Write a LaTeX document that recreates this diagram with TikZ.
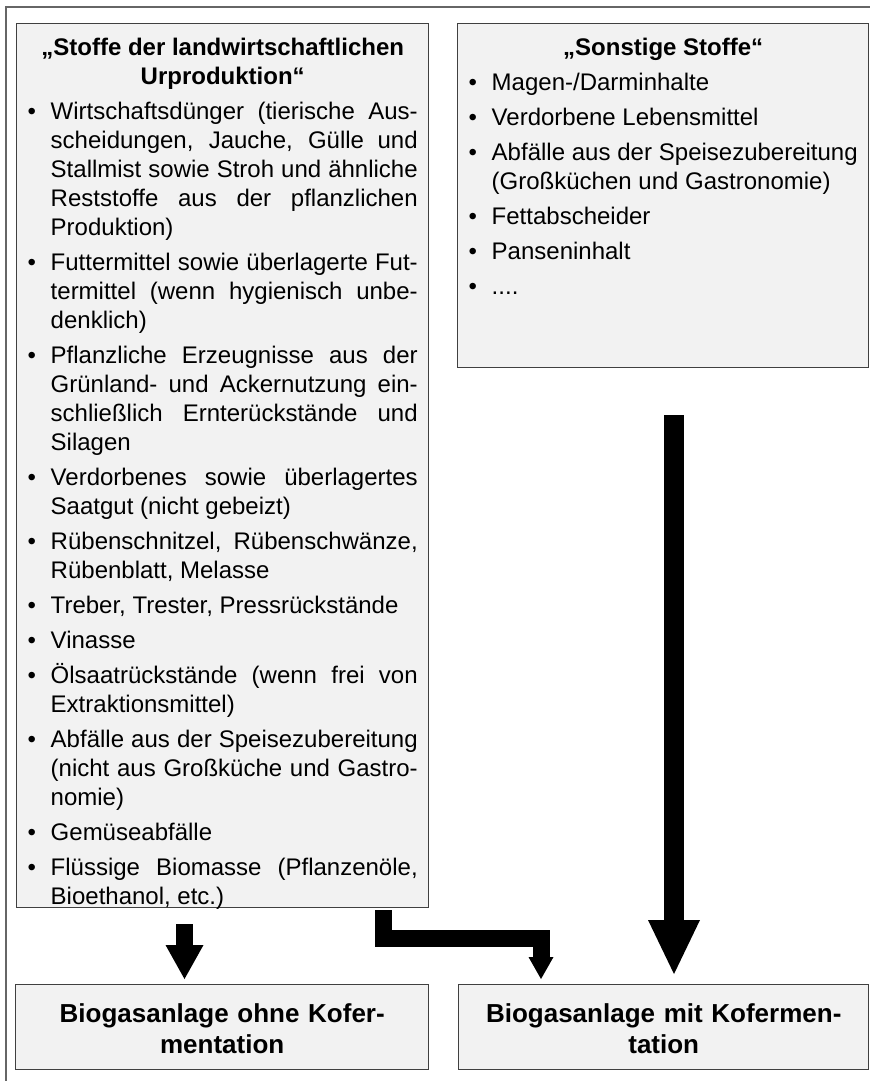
\documentclass[tikz,border=0pt]{standalone}
\usepackage{fontspec}
\setmainfont{Liberation Sans}
\usetikzlibrary{arrows.meta,calc}

\tolerance=10000
\hbadness=10000
\hyphenpenalty=10000
\exhyphenpenalty=10000

% Aufzaehlung in den Stoffkaesten
\newenvironment{stoffliste}{%
  \begin{list}{\textbullet}{%
    \setlength{\leftmargin}{17.25pt}\setlength{\labelwidth}{17.25pt}%
    \setlength{\labelsep}{0pt}\setlength{\itemsep}{4.5pt}%
    \setlength{\parsep}{0pt}\setlength{\topsep}{4.5pt}%
    \setlength{\partopsep}{0pt}%
    \renewcommand{\makelabel}[1]{##1\hfil}}}%
  {\end{list}}

\begin{document}
\begin{tikzpicture}[
      x=0.75pt, y=-0.75pt,
      stoffbox/.style={draw=black!75, fill=black!5, line width=1.1pt, anchor=north west, inner xsep=8.25pt, inner ysep=0pt, align=justify, text height=24pt, font=\fontsize{18pt}{21.75pt}\selectfont},
      zielbox/.style={draw=black!75, fill=black!5, line width=1.1pt, anchor=north west, inner xsep=6pt, inner ysep=0pt, align=center, text height=28.5pt, text depth=35.25pt, font=\fontsize{19.5pt}{23.25pt}\selectfont\bfseries},
      pfeil/.style={line width=12.75pt, line join=miter},
      rahmen/.style={draw=black!60, line width=0.9pt}
  ]
    \useasboundingbox (0,0) rectangle (869,1081);
    \draw[rahmen] (6,7) rectangle (900,1100);

    \node[stoffbox, text width=292.5pt, text depth=639pt] (urprod) at (16,23) {
      {\centering\bfseries „Stoffe der landwirtschaftlichen\\Urproduktion“\par}
      \begin{stoffliste}
        \item Wirtschaftsdünger (tierische Aus-\linebreak scheidungen, Jauche, Gülle und\linebreak Stallmist sowie Stroh und ähnliche\linebreak Reststoffe aus der pflanzlichen\linebreak Produktion)
        \item Futtermittel sowie überlagerte Fut-\linebreak termittel (wenn hygienisch unbe-\linebreak denklich)
        \item Pflanzliche Erzeugnisse aus der\linebreak Grünland- und Ackernutzung ein-\linebreak schließlich Ernterückstände und\linebreak Silagen
        \item Verdorbenes sowie überlagertes\linebreak Saatgut (nicht gebeizt)
        \item Rübenschnitzel, Rübenschwänze,\linebreak Rübenblatt, Melasse
        \item Treber, Trester, Pressrückstände
        \item Vinasse
        \item Ölsaatrückstände (wenn frei von\linebreak Extraktionsmittel)
        \item Abfälle aus der Speisezubereitung\linebreak (nicht aus Großküche und Gastro-\linebreak nomie)
        \item Gemüseabfälle
        \item Flüssige Biomasse (Pflanzenöle,\linebreak Bioethanol, etc.)
      \end{stoffliste}
    };
    \node[stoffbox, text width=291.75pt, text depth=234pt] (sonst) at (457,23) {
      {\centering\bfseries „Sonstige Stoffe“\par}
      \begin{stoffliste}
        \item Magen-/Darminhalte
        \item Verdorbene Lebensmittel
        \item Abfälle aus der Speisezubereitung\linebreak (Großküchen und Gastronomie)
        \item Fettabscheider
        \item Panseninhalt
        \item ....
      \end{stoffliste}
    };

    \node[zielbox, text width=297.75pt] (ohne) at (15,984) {Biogasanlage ohne Kofer-\\mentation};
    \node[zielbox, text width=295.5pt] (mit) at (458,984) {Biogasanlage mit Kofermen-\\tation};

    \draw[pfeil, -{Triangle[length=25.5pt, width=28.5pt, line width=0pt]}] ($(urprod.south west)+(168.5,16)$) -- ($(ohne.north west)+(169.5,-5)$);
    \draw[pfeil, -{Triangle[length=16.5pt, width=18.75pt, line width=0pt]}] ($(urprod.south west)+(367.5,2)$) |- ($(mit.north west)+(83,-45.5)$) -- ($(mit.north west)+(83,-5)$);
    \draw[pfeil, line width=15pt, -{Triangle[length=40.5pt, width=39pt, line width=0pt]}] ($(sonst.south west)+(217,47)$) -- ($(mit.north west)+(216,-10)$);
  \end{tikzpicture}
\end{document}
